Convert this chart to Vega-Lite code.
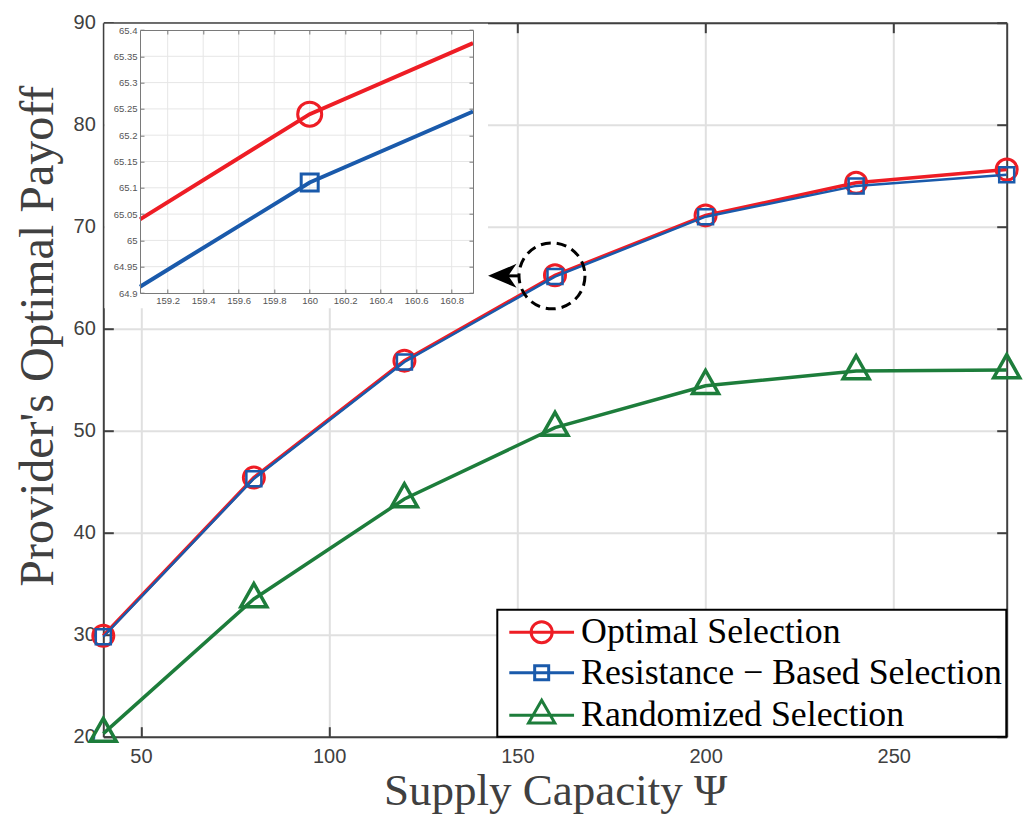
{
  "$schema": "https://vega.github.io/schema/vega-lite/v6.json",
  "width": 903.4,
  "height": 714,
  "autosize": {"type": "none"},
  "padding": {"left": 103.3, "top": 22.7, "right": 25.3, "bottom": 86.3},
  "background": "white",
  "config": {"view": {"stroke": null}},
  "datasets": {
    "main": [
      {"series": "Optimal Selection", "x": 40, "y": 29.9},
      {"series": "Optimal Selection", "x": 80, "y": 45.4},
      {"series": "Optimal Selection", "x": 120, "y": 56.87},
      {"series": "Optimal Selection", "x": 160, "y": 65.24},
      {"series": "Optimal Selection", "x": 200, "y": 71.11},
      {"series": "Optimal Selection", "x": 240, "y": 74.3},
      {"series": "Optimal Selection", "x": 280, "y": 75.6},
      {"series": "Resistance − Based Selection", "x": 40, "y": 29.8},
      {"series": "Resistance − Based Selection", "x": 80, "y": 45.3},
      {"series": "Resistance − Based Selection", "x": 120, "y": 56.74},
      {"series": "Resistance − Based Selection", "x": 160, "y": 65.11},
      {"series": "Resistance − Based Selection", "x": 200, "y": 70.98},
      {"series": "Resistance − Based Selection", "x": 240, "y": 74.0},
      {"series": "Resistance − Based Selection", "x": 280, "y": 75.1},
      {"series": "Randomized Selection", "x": 40, "y": 20.3},
      {"series": "Randomized Selection", "x": 80, "y": 33.5},
      {"series": "Randomized Selection", "x": 120, "y": 43.3},
      {"series": "Randomized Selection", "x": 160, "y": 50.3},
      {"series": "Randomized Selection", "x": 200, "y": 54.4},
      {"series": "Randomized Selection", "x": 240, "y": 55.85},
      {"series": "Randomized Selection", "x": 280, "y": 55.95}
    ],
    "inset": [
      {"series": "Optimal Selection", "x": 159.044, "y": 65.04},
      {"series": "Optimal Selection", "x": 160, "y": 65.24},
      {"series": "Optimal Selection", "x": 160.92, "y": 65.375},
      {"series": "Resistance − Based Selection", "x": 159.044, "y": 64.912},
      {"series": "Resistance − Based Selection", "x": 160, "y": 65.11},
      {"series": "Resistance − Based Selection", "x": 160.92, "y": 65.245}
    ],
    "insetXTicks": [
      {"t": 159.2}, {"t": 159.4}, {"t": 159.6}, {"t": 159.8}, {"t": 160},
      {"t": 160.2}, {"t": 160.4}, {"t": 160.6}, {"t": 160.8}
    ],
    "insetYTicks": [
      {"t": 64.95}, {"t": 65}, {"t": 65.05}, {"t": 65.1}, {"t": 65.15},
      {"t": 65.2}, {"t": 65.25}, {"t": 65.3}, {"t": 65.35}
    ],
    "annot": [{"x": 159.2, "y": 65.18}]
  },
  "layer": [
    {
      "layer": [
        {
          "data": {"name": "main"},
          "transform": [{"filter": "datum.series === 'Optimal Selection'"}],
          "mark": {"type": "line", "strokeWidth": 3.5},
          "encoding": {
            "x": {
              "field": "x", "type": "quantitative",
              "scale": {"domain": [40, 280], "nice": false, "zero": false},
              "axis": {
                "orient": "bottom", "values": [50, 100, 150, 200, 250],
                "grid": true, "gridColor": "#e0e0e0", "gridWidth": 2,
                "domainColor": "#404040", "domainWidth": 2,
                "tickColor": "#404040", "tickWidth": 2, "tickSize": -10,
                "labelFont": "Liberation Sans", "labelFontSize": 20, "labelColor": "#404040",
                "labelPadding": 19.5, "labelFlush": false, "labelOverlap": false,
                "title": "Supply Capacity Ψ", "titleFont": "Liberation Serif", "titleFontSize": 45,
                "titleFontWeight": "normal", "titleColor": "#404040",
                "titleX": 451.7, "titleY": 68, "titleBaseline": "alphabetic", "titleAlign": "center",
                "zindex": 0
              }
            },
            "y": {
              "field": "y", "type": "quantitative",
              "scale": {"domain": [20, 90], "nice": false, "zero": false},
              "axis": {
                "orient": "left", "values": [20, 30, 40, 50, 60, 70, 80, 90],
                "grid": true, "gridColor": "#e0e0e0", "gridWidth": 2,
                "domainColor": "#404040", "domainWidth": 2,
                "tickColor": "#404040", "tickWidth": 2, "tickSize": -10,
                "labelFont": "Liberation Sans", "labelFontSize": 20, "labelColor": "#404040",
                "labelPadding": 18, "labelFlush": false, "labelOverlap": false,
                "title": "Provider's Optimal Payoff", "titleFont": "Liberation Serif", "titleFontSize": 48,
                "titleFontWeight": "normal", "titleColor": "#404040",
                "titleX": -51, "titleY": 313, "titleBaseline": "alphabetic", "titleAlign": "center", "titleAngle": 270,
                "zindex": 0
              }
            },
            "color": {
              "field": "series", "type": "nominal",
              "scale": {
                "domain": ["Optimal Selection", "Resistance − Based Selection", "Randomized Selection"],
                "range": ["#ee1d25", "#1a5aab", "#1d7d3b"]
              },
              "legend": {
                "title": null, "orient": "bottom-right", "offset": 0,
                "padding": 3.5, "rowPadding": 3.5,
                "strokeColor": "#000000", "fillColor": "#ffffff",
                "symbolSize": 1225, "symbolStrokeWidth": 3,
                "labelFont": "Liberation Serif", "labelFontSize": 35.8, "labelColor": "#000000",
                "labelOffset": 42.25, "labelLimit": 700,
                "encode": {
                  "symbols": {"update": {
                    "shape": {"signal": "datum.value === 'Optimal Selection' ? 'M-0.6,0H3.1M0.65,0A0.6,0.6 0 1,0 1.85,0A0.6,0.6 0 1,0 0.65,0' : datum.value === 'Randomized Selection' ? 'M-0.6,0H3.1M0.5,0.45L1.25,-0.85L2,0.45Z' : 'M-0.6,0H3.1M0.85,-0.4H1.65V0.4H0.85Z'"},
                    "fill": {"value": "transparent"}
                  }},
                  "legend": {"update": {"strokeWidth": {"value": 2}}}
                }
              }
            }
          }
        },
        {
          "data": {"name": "main"},
          "transform": [{"filter": "datum.series === 'Optimal Selection'"}],
          "mark": {"type": "point", "shape": "circle", "size": 441, "strokeWidth": 3, "filled": false, "opacity": 1},
          "encoding": {
            "x": {"field": "x", "type": "quantitative", "axis": null},
            "y": {"field": "y", "type": "quantitative", "axis": null},
            "color": {"field": "series", "type": "nominal", "legend": null}
          }
        },
        {
          "data": {"name": "main"},
          "transform": [{"filter": "datum.series === 'Resistance − Based Selection'"}],
          "mark": {"type": "line", "strokeWidth": 2.5},
          "encoding": {
            "x": {"field": "x", "type": "quantitative", "axis": null},
            "y": {"field": "y", "type": "quantitative", "axis": null},
            "color": {"field": "series", "type": "nominal", "legend": null}
          }
        },
        {
          "data": {"name": "main"},
          "transform": [{"filter": "datum.series === 'Resistance − Based Selection'"}],
          "mark": {"type": "point", "shape": "square", "size": 225, "strokeWidth": 2.5, "filled": false, "opacity": 1},
          "encoding": {
            "x": {"field": "x", "type": "quantitative", "axis": null},
            "y": {"field": "y", "type": "quantitative", "axis": null},
            "color": {"field": "series", "type": "nominal", "legend": null}
          }
        },
        {
          "data": {"name": "main"},
          "transform": [{"filter": "datum.series === 'Randomized Selection'"}],
          "mark": {"type": "line", "strokeWidth": 3.5},
          "encoding": {
            "x": {"field": "x", "type": "quantitative", "axis": null},
            "y": {"field": "y", "type": "quantitative", "axis": null},
            "color": {"field": "series", "type": "nominal", "legend": null}
          }
        },
        {
          "data": {"name": "main"},
          "transform": [{"filter": "datum.series === 'Randomized Selection'"}],
          "mark": {"type": "point", "shape": "M0,-1.18L-1,0.59L1,0.59Z", "size": 676, "strokeWidth": 3.5, "filled": false, "opacity": 1},
          "encoding": {
            "x": {"field": "x", "type": "quantitative", "axis": null},
            "y": {"field": "y", "type": "quantitative", "axis": null},
            "color": {"field": "series", "type": "nominal", "legend": null}
          }
        },
        {
          "data": {"values": [{}]},
          "mark": {"type": "rect", "fill": "#ffffff", "stroke": null},
          "encoding": {
            "x": {"datum": 40.3, "type": "quantitative", "axis": null},
            "x2": {"datum": 142.2},
            "y": {"datum": 62, "type": "quantitative", "axis": null},
            "y2": {"datum": 89.9}
          }
        },
        {
          "data": {"name": "annot"},
          "mark": {"type": "point", "shape": "circle", "size": 4356, "filled": false, "stroke": "#000000", "strokeWidth": 3, "strokeDash": [10, 6], "opacity": 1},
          "encoding": {
            "x": {
              "field": "x", "type": "quantitative",
              "axis": {
                "orient": "top", "values": [50, 100, 150, 200, 250], "grid": false,
                "labels": false, "title": null,
                "domainColor": "#404040", "domainWidth": 2,
                "tickColor": "#404040", "tickWidth": 2, "tickSize": -10, "zindex": 0
              }
            },
            "y": {
              "field": "y", "type": "quantitative",
              "axis": {
                "orient": "right", "values": [20, 30, 40, 50, 60, 70, 80, 90], "grid": false,
                "labels": false, "title": null,
                "domainColor": "#404040", "domainWidth": 2,
                "tickColor": "#404040", "tickWidth": 2, "tickSize": -10, "zindex": 0
              }
            }
          }
        },
        {
          "data": {"values": [{}]},
          "mark": {"type": "rule", "stroke": "#000000", "strokeWidth": 3},
          "encoding": {
            "x": {"datum": 146.5, "type": "quantitative", "axis": null},
            "x2": {"datum": 150.3},
            "y": {"datum": 65.18, "type": "quantitative", "axis": null}
          }
        },
        {
          "data": {"values": [{}]},
          "mark": {"type": "point", "shape": "M-1,0L0.9,-0.8L0.35,0L0.9,0.8Z", "size": 900, "filled": true, "fill": "#000000", "stroke": null, "opacity": 1},
          "encoding": {
            "x": {"datum": 146.2, "type": "quantitative", "axis": null},
            "y": {"datum": 65.18, "type": "quantitative", "axis": null}
          }
        }
      ]
    },
    {
      "layer": [
        {
          "data": {"name": "insetXTicks"},
          "mark": {"type": "rule", "stroke": "#e6e6e6", "strokeWidth": 1},
          "encoding": {
            "x": {"field": "t", "type": "quantitative", "scale": {"domain": [159.044, 160.92], "range": [36.7, 369.7], "nice": false, "zero": false}, "axis": null},
            "y": {"datum": 64.9, "type": "quantitative", "scale": {"domain": [64.9, 65.4], "range": [270.3, 7.3], "nice": false, "zero": false}, "axis": null},
            "y2": {"datum": 65.4}
          }
        },
        {
          "data": {"name": "insetYTicks"},
          "mark": {"type": "rule", "stroke": "#e6e6e6", "strokeWidth": 1},
          "encoding": {
            "y": {"field": "t", "type": "quantitative", "axis": null},
            "x": {"datum": 159.044, "type": "quantitative", "axis": null},
            "x2": {"datum": 160.92}
          }
        },
        {
          "data": {"name": "inset"},
          "mark": {"type": "line", "strokeWidth": 4},
          "encoding": {
            "x": {
              "field": "x", "type": "quantitative",
              "axis": {
                "orient": "bottom", "offset": -443.7,
                "values": [159.2, 159.4, 159.6, 159.8, 160, 160.2, 160.4, 160.6, 160.8],
                "format": "~g", "grid": false, "title": null,
                "domainColor": "#7a7a7a", "domainWidth": 1,
                "tickColor": "#7a7a7a", "tickWidth": 1, "tickSize": -4,
                "labelFont": "Liberation Sans", "labelFontSize": 9.5, "labelColor": "#555555",
                "labelPadding": 6, "labelFlush": false, "labelOverlap": false, "zindex": 1
              }
            },
            "y": {
              "field": "y", "type": "quantitative",
              "axis": {
                "orient": "left", "offset": -36.7,
                "values": [64.9, 64.95, 65, 65.05, 65.1, 65.15, 65.2, 65.25, 65.3, 65.35, 65.4],
                "format": "~g", "grid": false, "title": null,
                "domainColor": "#7a7a7a", "domainWidth": 1,
                "tickColor": "#7a7a7a", "tickWidth": 1, "tickSize": -4,
                "labelFont": "Liberation Sans", "labelFontSize": 9.5, "labelColor": "#555555",
                "labelPadding": 7, "labelFlush": false, "labelOverlap": false, "zindex": 1
              }
            },
            "color": {"field": "series", "type": "nominal", "legend": null}
          }
        },
        {
          "data": {"name": "main"},
          "transform": [{"filter": "datum.x === 160 && datum.series === 'Optimal Selection'"}],
          "mark": {"type": "point", "shape": "circle", "size": 576, "strokeWidth": 3, "filled": false, "opacity": 1},
          "encoding": {
            "x": {
              "field": "x", "type": "quantitative",
              "axis": {
                "orient": "top", "offset": -7.3,
                "values": [159.2, 159.4, 159.6, 159.8, 160, 160.2, 160.4, 160.6, 160.8],
                "grid": false, "labels": false, "title": null,
                "domainColor": "#7a7a7a", "domainWidth": 1,
                "tickColor": "#7a7a7a", "tickWidth": 1, "tickSize": -4, "zindex": 1
              }
            },
            "y": {
              "field": "y", "type": "quantitative",
              "axis": {
                "orient": "right", "offset": -533.7,
                "values": [64.9, 64.95, 65, 65.05, 65.1, 65.15, 65.2, 65.25, 65.3, 65.35, 65.4],
                "grid": false, "labels": false, "title": null,
                "domainColor": "#7a7a7a", "domainWidth": 1,
                "tickColor": "#7a7a7a", "tickWidth": 1, "tickSize": -4, "zindex": 1
              }
            },
            "color": {"field": "series", "type": "nominal", "legend": null}
          }
        },
        {
          "data": {"name": "main"},
          "transform": [{"filter": "datum.x === 160 && datum.series === 'Resistance − Based Selection'"}],
          "mark": {"type": "point", "shape": "square", "size": 289, "strokeWidth": 3, "filled": false, "opacity": 1},
          "encoding": {
            "x": {"field": "x", "type": "quantitative", "axis": null},
            "y": {"field": "y", "type": "quantitative", "axis": null},
            "color": {"field": "series", "type": "nominal", "legend": null}
          }
        }
      ]
    }
  ],
  "resolve": {"scale": {"x": "independent", "y": "independent"}}
}
